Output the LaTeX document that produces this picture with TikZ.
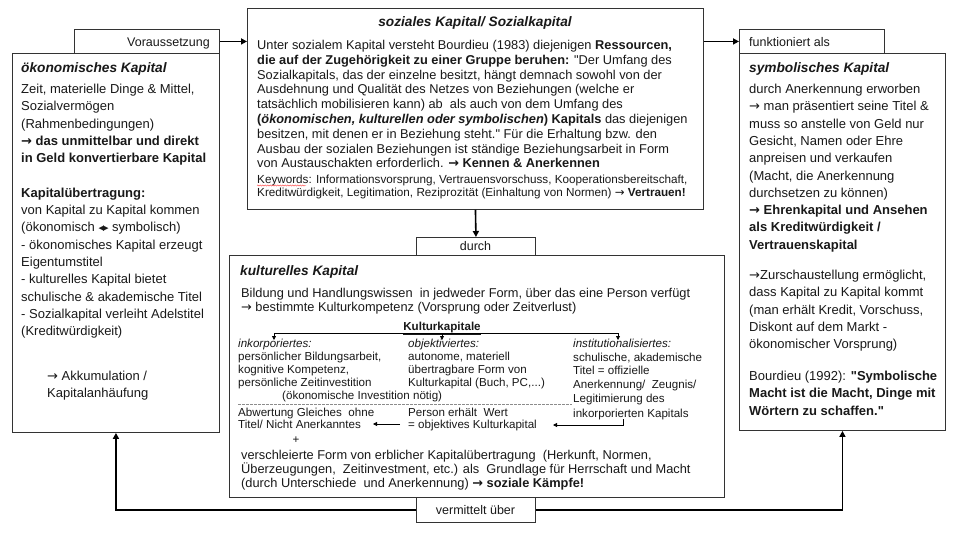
\documentclass[tikz,border=0pt]{standalone}
\usepackage{fontspec}
\setmainfont{Liberation Sans}[Ligatures=TeXOff]
\newfontfamily\symfont{DejaVu Sans}
\newcommand{\ra}{{\symfont →}}
\usetikzlibrary{arrows.meta,decorations.pathmorphing}
\begin{document}
\begin{tikzpicture}[x=1pt,y=-1pt,
  box/.style={draw=black!80, line width=0.9pt, fill=white, inner sep=0pt, anchor=north west},
  tl/.style={anchor=base west, inner sep=0pt, font=\fontsize{13}{15}\selectfont, text=black!90},
  tm/.style={anchor=base west, inner sep=0pt, font=\fontsize{12.8}{14}\selectfont, text=black!90},
  ts/.style={anchor=base west, inner sep=0pt, font=\fontsize{11.6}{13}\selectfont, text=black!90},
  tk/.style={anchor=base west, inner sep=0pt, font=\fontsize{11.7}{13}\selectfont, text=black!90},
  ttl/.style={anchor=base west, inner sep=0pt, font=\fontsize{13.7}{16}\selectfont\bfseries\itshape, text=black!90},
  arr/.style={line width=1.6pt, -{Triangle[length=6pt,width=6pt]}},
  sarr/.style={line width=0.8pt, -{Triangle[length=4pt,width=4pt]}}
]
\fill[white] (0,0) rectangle (960,535);
\useasboundingbox (0,0) rectangle (960,535);

% label boxes
\node[box, minimum width=145, minimum height=24] (vor) at (74,29) {};
\node[box, minimum width=145, minimum height=24] (funk) at (739,29) {};
\node[box, minimum width=119, minimum height=18] (durch) at (416,237) {};
\node[box, minimum width=119, minimum height=25] (verm) at (416,497) {};

% main boxes
\node[box, minimum width=207, minimum height=379] (oek) at (12,53) {};
\node[box, minimum width=456, minimum height=201] (soz) at (247,8) {};
\node[box, minimum width=206, minimum height=377] (sym) at (739,53) {};
\node[box, minimum width=495, minimum height=242] (kul) at (229,255) {};

% label texts
\node[tl, anchor=base, font=\fontsize{12.5}{14}\selectfont] (vorT) at (168.5,46) {Voraussetzung};
\node[tl, font=\fontsize{12.5}{14}\selectfont] (funkT) at (749,46) {funktioniert als};
\node[tl, anchor=base, font=\fontsize{12.5}{14}\selectfont] (durchT) at (475.5,250.5) {durch};
\node[tl, anchor=base, font=\fontsize{12.5}{14}\selectfont] (vermT) at (475.5,514) {vermittelt über};

% connectors
\draw[arr] (vor.east) -- (vor.east -| soz.west);
\draw[arr] (soz.east |- funk.west) -- (funk.west);
\draw[arr] (soz.south) -- (durch.north);
\draw[arr] (verm.west) -| (oek.south);
\draw[arr] (verm.east) -| (sym.south);

% ---------- left box ----------
\node[ttl] (oekT) at (21,72) {ökonomisches Kapital};
\node[tl] (o1) at (21,93.5) {Zeit, materielle Dinge \& Mittel,};
\node[tl] (o2) at (21,110.8) {Sozialvermögen};
\node[tl] (o3) at (21,128.1) {(Rahmenbedingungen)};
\node[tl] (o4) at (21,145.4) {\textbf{\ra\ das unmittelbar und direkt}};
\node[tl] (o5) at (21,162.7) {\textbf{in Geld konvertierbare Kapital}};
\node[tl] (o6) at (21,197.3) {\textbf{Kapitalübertragung:}};
\node[tl] (o7) at (21,214.6) {von Kapital zu Kapital kommen};
\node[tl] (o8) at (21,231.9) {(ökonomisch {\symfont\fontsize{11}{12}\selectfont ◂\kern-1pt▸} symbolisch)};
\node[tl] (o9) at (21,249.2) {- ökonomisches Kapital erzeugt};
\node[tl] (o10) at (21,266.5) {Eigentumstitel};
\node[tl] (o11) at (21,283.8) {- kulturelles Kapital bietet};
\node[tl] (o12) at (21,301.1) {schulische \& akademische Titel};
\node[tl] (o13) at (21,318.4) {- Sozialkapital verleiht Adelstitel};
\node[tl] (o14) at (21,335.7) {(Kreditwürdigkeit)};
\node[tl] (o15) at (47,380.5) {\ra\ Akkumulation /};
\node[tl] (o16) at (47,397.8) {Kapitalanhäufung};

% ---------- right box ----------
\node[ttl] (symT) at (749,72) {symbolisches Kapital};
\node[tl] (s1) at (749,93.5) {durch Anerkennung erworben};
\node[tl] (s2) at (749,110.8) {\ra\ man präsentiert seine Titel \&};
\node[tl] (s3) at (749,128.1) {muss so anstelle von Geld nur};
\node[tl] (s4) at (749,145.4) {Gesicht, Namen oder Ehre};
\node[tl] (s5) at (749,162.7) {anpreisen und verkaufen};
\node[tl] (s6) at (749,180) {(Macht, die Anerkennung};
\node[tl] (s7) at (749,197.3) {durchsetzen zu können)};
\node[tl] (s8) at (749,214.6) {\textbf{\ra\ Ehrenkapital und Ansehen}};
\node[tl] (s9) at (749,231.9) {\textbf{als Kreditwürdigkeit /}};
\node[tl] (s10) at (749,249.2) {\textbf{Vertrauenskapital}};
\node[tl] (s11) at (749,279.5) {\ra Zurschaustellung ermöglicht,};
\node[tl] (s12) at (749,296.8) {dass Kapital zu Kapital kommt};
\node[tl] (s13) at (749,314.1) {(man erhält Kredit, Vorschuss,};
\node[tl] (s14) at (749,331.4) {Diskont auf dem Markt -};
\node[tl] (s15) at (749,348.7) {ökonomischer Vorsprung)};
\node[tl] (s16) at (749,380.5) {Bourdieu (1992): \textbf{"Symbolische}};
\node[tl] (s17) at (749,397.8) {\textbf{Macht ist die Macht, Dinge mit}};
\node[tl] (s18) at (749,415.1) {\textbf{Wörtern zu schaffen."}};

% ---------- top box ----------
\node[ttl, anchor=base] (sozT) at (475,27) {soziales Kapital/ Sozialkapital};
\node[tm] (z1) at (257,49.5) {Unter sozialem Kapital versteht Bourdieu (1983) diejenigen \textbf{Ressourcen,}};
\node[tm] (z2) at (257,64.3) {\textbf{die auf der Zugehörigkeit zu einer Gruppe beruhen:} "Der Umfang des};
\node[tm] (z3) at (257,79.1) {Sozialkapitals, das der einzelne besitzt, hängt demnach sowohl von der};
\node[tm] (z4) at (257,93.9) {Ausdehnung und Qualität des Netzes von Beziehungen (welche er};
\node[tm] (z5) at (257,108.7) {tatsächlich mobilisieren kann) ab\ \ als auch von dem Umfang des};
\node[tm] (z6) at (257,123.5) {\textbf{(\textit{ökonomischen, kulturellen oder symbolischen}) Kapitals} das diejenigen};
\node[tm] (z7) at (257,138.3) {besitzen, mit denen er in Beziehung steht." Für die Erhaltung bzw. den};
\node[tm] (z8) at (257,153.1) {Ausbau der sozialen Beziehungen ist ständige Beziehungsarbeit in Form};
\node[tm] (z9) at (257,167.9) {von Austauschakten erforderlich. \textbf{\ra\ Kennen \& Anerkennen}};
\node[tk] (z10) at (257,183) {Keywords: Informationsvorsprung, Vertrauensvorschuss, Kooperationsbereitschaft,};
\node[tk] (z11) at (257,196) {Kreditwürdigkeit, Legitimation, Reziprozität (Einhaltung von Normen) \ra\ \textbf{Vertrauen!}};
\coordinate (kwA) at (257,185.5);
\coordinate (kwB) at (306,185.5);
\draw[red!80, line width=0.4pt, decorate, decoration={snake, amplitude=0.6pt, segment length=2.5pt}] (kwA) -- (kwB);

% ---------- culture box ----------
\node[ttl] (kulT) at (240,275) {kulturelles Kapital};
\node[tm] (k1) at (241,297.5) {Bildung und Handlungswissen\ \ in jedweder Form, über das eine Person verfügt};
\node[tm] (k2) at (241,311.5) {\ra\ bestimmte Kulturkompetenz (Vorsprung oder Zeitverlust)};
\node[ts, anchor=base, font=\fontsize{11.6}{13}\selectfont\bfseries] (kk) at (442,330) {\underline{Kulturkapitale}};
\coordinate (hl) at (274,333);
\coordinate (hr) at (618,333);
\coordinate (hm) at (442,333);
\draw[line width=0.8pt] (hl) -- (hr);
\draw[sarr] (hl) -- ++(0,7);
\draw[sarr] (hm) -- ++(0,7);
\draw[sarr] (hr) -- ++(0,7);

\node[ts] (c1a) at (238,347) {\textit{inkorporiertes:}};
\node[ts] (c1b) at (238,360) {persönlicher Bildungsarbeit,};
\node[ts] (c1c) at (238,373) {kognitive Kompetenz,};
\node[ts] (c1d) at (238,386) {persönliche Zeitinvestition};
\node[ts] (c1e) at (282,399) {(ökonomische Investition nötig)};
\node[ts] (c2a) at (408,347) {\textit{objektiviertes:}};
\node[ts] (c2b) at (408,360) {autonome, materiell};
\node[ts] (c2c) at (408,373) {übertragbare Form von};
\node[ts] (c2d) at (408,386) {Kulturkapital (Buch, PC,...)};
\node[ts] (c3a) at (573,347) {\textit{institutionalisiertes:}};
\node[ts] (c3b) at (573,361) {schulische, akademische};
\node[ts] (c3c) at (573,374) {Titel = offizielle};
\node[ts] (c3d) at (573,388) {Anerkennung/\ \ Zeugnis/};
\node[ts] (c3e) at (573,402) {Legitimierung des};
\node[ts] (c3f) at (573,417) {inkorporierten Kapitals};
\draw[black!45, line width=0.6pt, dash pattern=on 2.5pt off 1.5pt] (238,404) -- (572,404);
\node[ts] (c1f) at (238,416) {Abwertung Gleiches\ \ ohne};
\node[ts] (c1g) at (238,428.5) {Titel/ Nicht Anerkanntes};
\node[ts] (c2e) at (408,416) {Person erhält\ \ Wert};
\node[ts] (c2f) at (408,428.5) {= objektives Kulturkapital};
\coordinate (a1s) at (400,424);
\coordinate (a1e) at (373,424);
\draw[sarr] (a1s) -- (a1e);
\coordinate (a2s) at (623,419);
\coordinate (a2e) at (553,425);
\draw[sarr] (a2s) |- (a2e);
\node[ts, anchor=base] (plus) at (296,443) {+};
\node[tm] (k3) at (241,459.5) {verschleierte Form von erblicher Kapitalübertragung\ \ (Herkunft, Normen,};
\node[tm] (k4) at (241,473.5) {Überzeugungen,\ \ Zeitinvestment, etc.) als\ \ Grundlage für Herrschaft und Macht};
\node[tm] (k5) at (241,487.5) {(durch Unterschiede\ \ und Anerkennung) \textbf{\ra\ soziale Kämpfe!}};
\end{tikzpicture}
\end{document}
